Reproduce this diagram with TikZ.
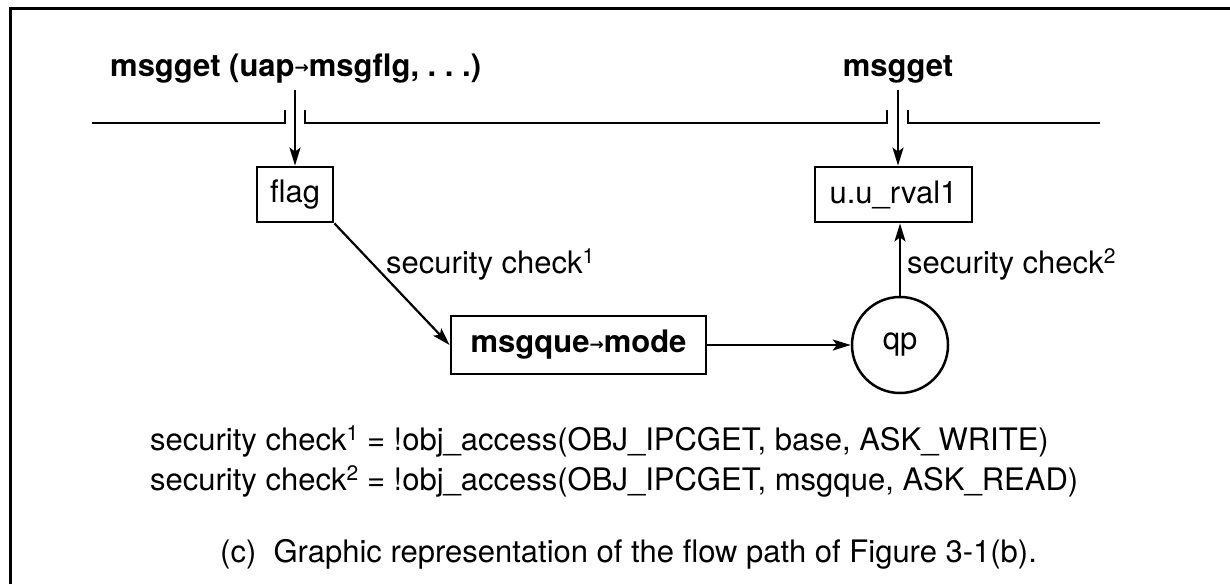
\documentclass[tikz,border=0pt]{standalone}
\usepackage{fontspec}
\setmainfont{TeX Gyre Heros}
\newfontfamily\arrfont{DejaVu Sans}
\usetikzlibrary{arrows.meta}
\newcommand\myup[1]{\raisebox{0.3em}{\fontsize{21}{21}\selectfont #1}}
\newcommand\myarr{{\arrfont\fontsize{17}{17}\selectfont\raisebox{0.15em}{→}}}
\begin{document}
\begin{tikzpicture}[x=1pt,y=-1pt,
  conn/.style={line width=2.2pt,-{Stealth[length=18pt,width=11pt,inset=4pt]}},
  rule/.style={line width=2.5pt},
  box/.style={draw,line width=2.8pt,inner sep=0pt,minimum height=55pt,font=\fontsize{31}{37}\selectfont},
  txt/.style={font=\fontsize{31}{37}\selectfont,inner sep=0pt,anchor=base west},
  bold/.style={font=\fontsize{31}{37}\selectfont\bfseries,inner sep=0pt}
]
\useasboundingbox (0,0) rectangle (1230,584);
\fill[white] (0,0) rectangle (1230,584);
\draw[line width=3pt] (10,584) -- (10,8) -- (1230,8);

% top labels
\node[bold,anchor=base west] (l1) at (110,76) {msgget (uap\myarr msgflg, .\ .\ .)};
\node[bold,anchor=base] (l2) at (898,76) {msgget};

% boundary line
\draw[rule] (92,123) -- (285,123) -- (285,110);
\draw[rule] (305,110) -- (305,123) -- (887,123) -- (887,110);
\draw[rule] (908,110) -- (908,123) -- (1100,123);

% boxes
\node[box,minimum width=76pt] (flag) at (295,194.5) {flag};
\node[box,minimum width=157pt] (uu) at (893.5,194.5) {u.u\_rval1};
\node[box,minimum width=255pt,minimum height=58pt,font=\fontsize{31}{37}\selectfont\bfseries] (mq) at (578.5,345) {msgque\myarr mode};
\node[draw,circle,line width=2.5pt,minimum size=96pt,inner sep=0pt,font=\fontsize{31}{37}\selectfont] (qp) at (900,345) {qp};

% connectors
\coordinate (a1) at (295,90);
\coordinate (a2) at (898,90);
\draw[conn] (a1) -- (flag.north);
\draw[conn] (a2) -- (a2 |- uu.north);
\draw[conn] (flag.south east) -- (mq.west);
\draw[conn] (mq.east) -- (qp.west);
\draw[conn] (qp.north) -- (qp.north |- uu.south);

% labels
\node[txt] (sc1) at (386,273) {security check\myup{1}};
\node[txt] (sc2) at (907,273) {security check\myup{2}};

% equations and caption
\node[txt] (eq1) at (150,450) {security check\myup{1} = !obj\_access(OBJ\_IPCGET, base, ASK\_WRITE)};
\node[txt] (eq2) at (150,490) {security check\myup{2} = !obj\_access(OBJ\_IPCGET, msgque, ASK\_READ)};
\node[txt] (cap) at (220,562) {(c)\ \ Graphic representation of the flow path of Figure 3-1(b).};
\end{tikzpicture}
\end{document}
